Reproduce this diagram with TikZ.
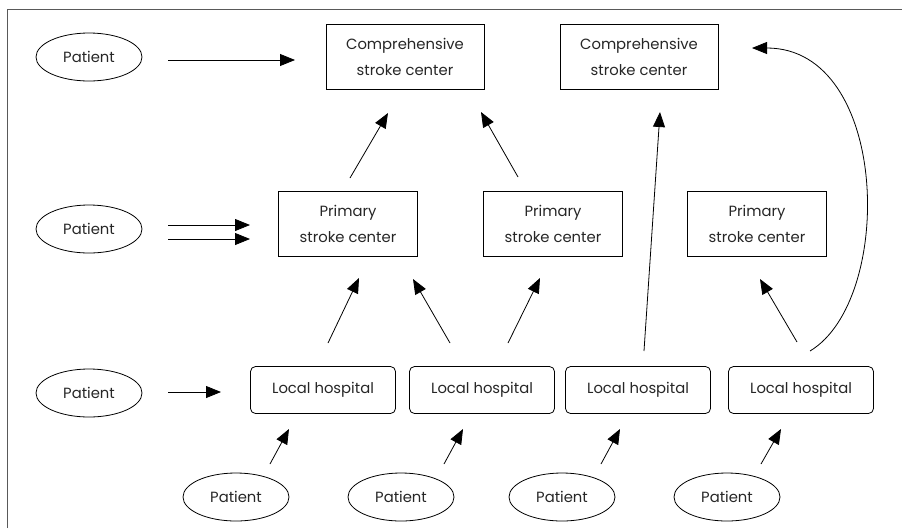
\documentclass[tikz,border=0pt]{standalone}
\usepackage{fontspec}
\setmainfont{Poppins}
\usetikzlibrary{arrows.meta,shapes.geometric}
\begin{document}
\begin{tikzpicture}[x=1pt,y=-1pt,
  txt/.style={font=\fontsize{14.8}{26.5}\selectfont, text=black!85, align=center, inner sep=0pt},
  ctrbox/.style={txt, draw, line width=0.8pt, minimum height=65pt},
  hosp/.style={txt, draw, line width=0.8pt, rounded corners=5pt, minimum width=145pt, minimum height=47pt},
  pat/.style={txt, draw, ellipse, line width=0.8pt, minimum width=106pt, minimum height=48pt},
  arr/.style={line width=0.8pt, -{Triangle[length=15pt,width=12pt]}}]
\useasboundingbox (0,0) rectangle (902,528);
\draw[line width=1pt, black!65] (7,528) -- (7,9) -- (902,9);

% nodes
\node[pat] (pat1) at (89,57) {Patient};
\node[pat] (pat2) at (89,229) {Patient};
\node[pat] (pat3) at (89,393) {Patient};

\node[ctrbox, minimum width=158pt] (comp1) at (405,57) {Comprehensive\\stroke center};
\node[ctrbox, minimum width=158pt] (comp2) at (639,57) {Comprehensive\\stroke center};

\node[ctrbox, minimum width=139pt] (prim1) at (348,224) {Primary\\stroke center};
\node[ctrbox, minimum width=139pt] (prim2) at (553,224) {Primary\\stroke center};
\node[ctrbox, minimum width=139pt] (prim3) at (757,224) {Primary\\stroke center};

\node[hosp] (loc1) at (323,390) {Local hospital};
\node[hosp] (loc2) at (482,390) {Local hospital};
\node[hosp] (loc3) at (638,390) {Local hospital};
\node[hosp] (loc4) at (801,390) {Local hospital};

\node[pat] (bp1) at (236,497) {Patient};
\node[pat] (bp2) at (401,497) {Patient};
\node[pat] (bp3) at (562,497) {Patient};
\node[pat] (bp4) at (727,497) {Patient};

% connector end points (arrows float free of the boxes)
\coordinate (p1s) at (168,60);  \coordinate (p1e) at (295,60);
\coordinate (p2as) at (168,225); \coordinate (p2ae) at (250,225);
\coordinate (p2bs) at (168,239); \coordinate (p2be) at (250,239);
\coordinate (p3s) at (168,392); \coordinate (p3e) at (221,392);

\coordinate (pr1s) at (350,178); \coordinate (pr1e) at (388,113);
\coordinate (pr2s) at (518,177); \coordinate (pr2e) at (481,112);

\coordinate (l1s) at (328,343); \coordinate (l1e) at (359,278);
\coordinate (l2as) at (450,343); \coordinate (l2ae) at (413,279);
\coordinate (l2bs) at (508,343); \coordinate (l2be) at (540,278);
\coordinate (l3s) at (644,351); \coordinate (l3e) at (660,112);
\coordinate (l4as) at (797,342); \coordinate (l4ae) at (760,279);
\coordinate (l4bs) at (810,351); \coordinate (l4be) at (752,48);

\coordinate (b1s) at (270,464); \coordinate (b1e) at (289,429);
\coordinate (b2s) at (444,464); \coordinate (b2e) at (463,429);
\coordinate (b3s) at (601,464); \coordinate (b3e) at (620,429);
\coordinate (b4s) at (761,464); \coordinate (b4e) at (781,429);

% connectors
\draw[arr] (p1s) -- (p1e);
\draw[arr] (p2as) -- (p2ae);
\draw[arr] (p2bs) -- (p2be);
\draw[arr] (p3s) -- (p3e);
\draw[arr] (pr1s) -- (pr1e);
\draw[arr] (pr2s) -- (pr2e);
\draw[arr] (l1s) -- (l1e);
\draw[arr] (l2as) -- (l2ae);
\draw[arr] (l2bs) -- (l2be);
\draw[arr] (l3s) -- (l3e);
\draw[arr] (l4as) -- (l4ae);
\draw[arr] (l4bs) .. controls (895,300) and (890,48) .. (l4be);
\draw[arr] (b1s) -- (b1e);
\draw[arr] (b2s) -- (b2e);
\draw[arr] (b3s) -- (b3e);
\draw[arr] (b4s) -- (b4e);
\end{tikzpicture}
\end{document}
